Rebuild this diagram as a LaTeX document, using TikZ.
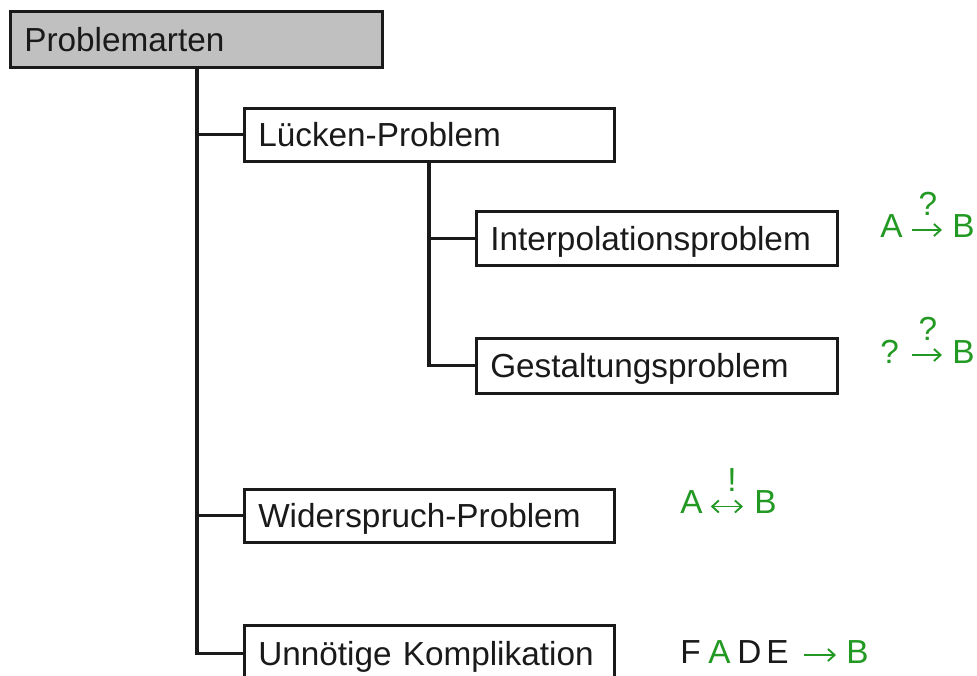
\documentclass[tikz,border=0pt]{standalone}
\usepackage{fontspec}
\setmainfont{Liberation Sans}
\usetikzlibrary{arrows.meta}
\newcommand\pxu{0.75pt}
\definecolor{boxgrey}{HTML}{C0C0C0}
\definecolor{lblgreen}{HTML}{229922}
\definecolor{txtblack}{HTML}{1A1A1A}
\tikzset{
  box/.style={draw=txtblack, line width=1.9pt, fill=white, rectangle, anchor=north west,
    inner xsep=14*\pxu, inner ysep=0pt, align=left, text=txtblack,
    text height=24*\pxu, text depth=0pt, minimum height=54*\pxu,
    font=\fontsize{25}{30}\selectfont},
  conn/.style={draw=txtblack, line width=2.4pt},
  glyph/.style={inner sep=0pt, anchor=base west, font=\fontsize{25}{30}\selectfont, text=lblgreen},
  blackglyph/.style={glyph, text=txtblack},
  garrow/.style={draw=lblgreen, line width=1.4pt, -{Straight Barb[length=5pt,width=9pt]}},
  gdarrow/.style={draw=lblgreen, line width=1.4pt, {Straight Barb[length=5pt,width=9pt]}-{Straight Barb[length=5pt,width=9pt]}}
}
\begin{document}
\begin{tikzpicture}[x=0.75pt, y=-0.75pt]
\clip (0,0) rectangle (977,675);
\fill[white] (0,0) rectangle (977,675);

% boxes
\node[box, fill=boxgrey, text width=(372-28)*\pxu, minimum height=56*\pxu] (pa) at (9,10) {Problemarten};
\node[box, text width=(370-28)*\pxu, minimum height=53*\pxu] (lp) at (243,107) {Lücken-Problem};
\node[box, text width=(361-28)*\pxu] (ip) at (475,210) {Interpolationsproblem};
\node[box, text width=(361-28)*\pxu, minimum height=55*\pxu] (gp) at (475,337) {Gestaltungsproblem};
\node[box, text width=(370-28)*\pxu, minimum height=53*\pxu] (wp) at (243,488) {Widerspruch-Problem};
\node[box, text width=(370-28)*\pxu, minimum height=56*\pxu] (un) at (243,624) {Unnötige Komplikation};

% trunk connectors
\coordinate (tr) at (197,66);
\draw[conn] (tr) |- (un.west);
\draw[conn] (lp.west) -- (lp.west -| tr);
\draw[conn] (wp.west) -- (wp.west -| tr);
\coordinate (tr2) at (429,160);
\draw[conn] (tr2) |- (gp.west);
\draw[conn] (ip.west) -- (ip.west -| tr2);

% label 1: A ?-> B
\node[glyph] (a1) at (880,237) {A};
\node[glyph] (b1) at (952,237) {B};
\node[glyph, anchor=base] (q1) at (928,215) {?};
\draw[garrow] ([xshift=9*\pxu, yshift=7*\pxu]a1.base east) -- ([xshift=-10*\pxu, yshift=7*\pxu]b1.base west);

% label 2: ? ?-> B
\node[glyph] (a2) at (880,363) {?};
\node[glyph] (b2) at (952,363) {B};
\node[glyph, anchor=base] (q2) at (928,340) {?};
\draw[garrow] ([xshift=13*\pxu, yshift=8*\pxu]a2.base east) -- ([xshift=-10*\pxu, yshift=8*\pxu]b2.base west);

% label 3: A !<-> B
\node[glyph] (a3) at (680,513) {A};
\node[glyph] (b3) at (754,513) {B};
\node[glyph, anchor=base] (q3) at (732,491) {!};
\draw[gdarrow] ([xshift=8*\pxu, yshift=6.5*\pxu]a3.base east) -- ([xshift=-11*\pxu, yshift=6.5*\pxu]b3.base west);

% label 4: F A D E -> B
\node[blackglyph] (f4) at (680,663) {F};
\node[glyph] (a4) at (708,663) {A};
\node[blackglyph] (d4) at (737,663) {D};
\node[blackglyph] (e4) at (766,663) {E};
\node[glyph] (b4) at (846,663) {B};
\draw[garrow] ([xshift=15*\pxu, yshift=8*\pxu]e4.base east) -- ([xshift=-10*\pxu, yshift=8*\pxu]b4.base west);
\end{tikzpicture}
\end{document}
